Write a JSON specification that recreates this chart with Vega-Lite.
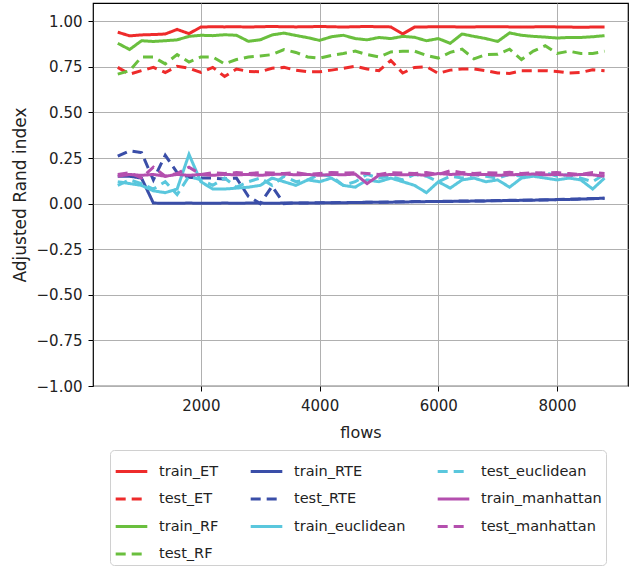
{
  "$schema": "https://vega.github.io/schema/vega-lite/v6.json",
  "width": 535,
  "height": 383,
  "autosize": "none",
  "padding": {"left": 93, "top": 3, "right": 4, "bottom": 183},
  "background": "white",
  "config": {
    "view": {"stroke": "#000", "strokeWidth": 1.2},
    "font": "DejaVu Sans",
    "legend": {
      "orient": "none",
      "legendX": 17,
      "legendY": 447,
      "columns": 3,
      "symbolType": "stroke",
      "symbolSize": 1000,
      "symbolStrokeWidth": 3,
      "labelFontSize": 14.5,
      "labelFont": "DejaVu Sans",
      "labelColor": "#222",
      "strokeColor": "#d0d0d0",
      "fillColor": "white",
      "cornerRadius": 4,
      "padding": 4,
      "rowPadding": 3.5,
      "columnPadding": 25,
      "labelOffset": 10,
      "labelLimit": 300
    }
  },
  "data": {
    "values": [
      {"flows": 600, "train_ET": 0.94, "test_ET": 0.747, "train_RF": 0.879, "test_RF": 0.71, "train_RTE": 0.15, "test_RTE": 0.26, "train_euclidean": 0.12, "test_euclidean": 0.1, "train_manhattan": 0.15, "test_manhattan": 0.16},
      {"flows": 800, "train_ET": 0.92, "test_ET": 0.71, "train_RF": 0.845, "test_RF": 0.729, "train_RTE": 0.15, "test_RTE": 0.29, "train_euclidean": 0.11, "test_euclidean": 0.13, "train_manhattan": 0.16, "test_manhattan": 0.17},
      {"flows": 1000, "train_ET": 0.925, "test_ET": 0.729, "train_RF": 0.893, "test_RF": 0.804, "train_RTE": 0.14, "test_RTE": 0.28, "train_euclidean": 0.1, "test_euclidean": 0.11, "train_manhattan": 0.155, "test_manhattan": 0.14},
      {"flows": 1200, "train_ET": 0.927, "test_ET": 0.747, "train_RF": 0.889, "test_RF": 0.804, "train_RTE": 0.003, "test_RTE": 0.13, "train_euclidean": 0.07, "test_euclidean": 0.08, "train_manhattan": 0.16, "test_manhattan": 0.2},
      {"flows": 1400, "train_ET": 0.93, "test_ET": 0.719, "train_RF": 0.893, "test_RF": 0.766, "train_RTE": 0.002, "test_RTE": 0.265, "train_euclidean": 0.06, "test_euclidean": 0.12, "train_manhattan": 0.15, "test_manhattan": 0.15},
      {"flows": 1600, "train_ET": 0.955, "test_ET": 0.753, "train_RF": 0.898, "test_RF": 0.817, "train_RTE": 0.002, "test_RTE": 0.17, "train_euclidean": 0.08, "test_euclidean": 0.05, "train_manhattan": 0.16, "test_manhattan": 0.165},
      {"flows": 1800, "train_ET": 0.932, "test_ET": 0.742, "train_RF": 0.917, "test_RF": 0.776, "train_RTE": 0.003, "test_RTE": 0.145, "train_euclidean": 0.27, "test_euclidean": 0.15, "train_manhattan": 0.155, "test_manhattan": 0.2},
      {"flows": 2000, "train_ET": 0.968, "test_ET": 0.719, "train_RF": 0.923, "test_RF": 0.804, "train_RTE": 0.002, "test_RTE": 0.14, "train_euclidean": 0.12, "test_euclidean": 0.13, "train_manhattan": 0.16, "test_manhattan": 0.16},
      {"flows": 2200, "train_ET": 0.97, "test_ET": 0.747, "train_RF": 0.921, "test_RF": 0.804, "train_RTE": 0.002, "test_RTE": 0.14, "train_euclidean": 0.08, "test_euclidean": 0.1, "train_manhattan": 0.155, "test_manhattan": 0.17},
      {"flows": 2400, "train_ET": 0.969, "test_ET": 0.697, "train_RF": 0.926, "test_RF": 0.766, "train_RTE": 0.003, "test_RTE": 0.135, "train_euclidean": 0.08, "test_euclidean": 0.14, "train_manhattan": 0.16, "test_manhattan": 0.165},
      {"flows": 2600, "train_ET": 0.97, "test_ET": 0.738, "train_RF": 0.923, "test_RF": 0.79, "train_RTE": 0.002, "test_RTE": 0.14, "train_euclidean": 0.085, "test_euclidean": 0.09, "train_manhattan": 0.158, "test_manhattan": 0.17},
      {"flows": 2800, "train_ET": 0.968, "test_ET": 0.725, "train_RF": 0.89, "test_RF": 0.804, "train_RTE": 0.003, "test_RTE": 0.04, "train_euclidean": 0.09, "test_euclidean": 0.12, "train_manhattan": 0.16, "test_manhattan": 0.165},
      {"flows": 3000, "train_ET": 0.97, "test_ET": 0.723, "train_RF": 0.898, "test_RF": 0.81, "train_RTE": 0.003, "test_RTE": 0.0, "train_euclidean": 0.1, "test_euclidean": 0.14, "train_manhattan": 0.155, "test_manhattan": 0.17},
      {"flows": 3200, "train_ET": 0.971, "test_ET": 0.742, "train_RF": 0.925, "test_RF": 0.817, "train_RTE": 0.002, "test_RTE": 0.095, "train_euclidean": 0.14, "test_euclidean": 0.1, "train_manhattan": 0.16, "test_manhattan": 0.168},
      {"flows": 3400, "train_ET": 0.97, "test_ET": 0.747, "train_RF": 0.935, "test_RF": 0.845, "train_RTE": 0.003, "test_RTE": 0.0, "train_euclidean": 0.12, "test_euclidean": 0.15, "train_manhattan": 0.162, "test_manhattan": 0.165},
      {"flows": 3600, "train_ET": 0.969, "test_ET": 0.732, "train_RF": 0.922, "test_RF": 0.829, "train_RTE": 0.003, "test_RTE": 0.004, "train_euclidean": 0.1, "test_euclidean": 0.12, "train_manhattan": 0.158, "test_manhattan": 0.17},
      {"flows": 3800, "train_ET": 0.97, "test_ET": 0.723, "train_RF": 0.91, "test_RF": 0.804, "train_RTE": 0.004, "test_RTE": 0.004, "train_euclidean": 0.13, "test_euclidean": 0.13, "train_manhattan": 0.16, "test_manhattan": 0.16},
      {"flows": 4000, "train_ET": 0.971, "test_ET": 0.723, "train_RF": 0.895, "test_RF": 0.798, "train_RTE": 0.004, "test_RTE": 0.005, "train_euclidean": 0.12, "test_euclidean": 0.16, "train_manhattan": 0.155, "test_manhattan": 0.165},
      {"flows": 4200, "train_ET": 0.97, "test_ET": 0.732, "train_RF": 0.915, "test_RF": 0.813, "train_RTE": 0.005, "test_RTE": 0.005, "train_euclidean": 0.14, "test_euclidean": 0.15, "train_manhattan": 0.16, "test_manhattan": 0.17},
      {"flows": 4400, "train_ET": 0.968, "test_ET": 0.742, "train_RF": 0.923, "test_RF": 0.823, "train_RTE": 0.005, "test_RTE": 0.006, "train_euclidean": 0.1, "test_euclidean": 0.1, "train_manhattan": 0.158, "test_manhattan": 0.168},
      {"flows": 4600, "train_ET": 0.97, "test_ET": 0.753, "train_RF": 0.905, "test_RF": 0.836, "train_RTE": 0.006, "test_RTE": 0.006, "train_euclidean": 0.09, "test_euclidean": 0.12, "train_manhattan": 0.162, "test_manhattan": 0.17},
      {"flows": 4800, "train_ET": 0.971, "test_ET": 0.738, "train_RF": 0.898, "test_RF": 0.817, "train_RTE": 0.007, "test_RTE": 0.008, "train_euclidean": 0.13, "test_euclidean": 0.16, "train_manhattan": 0.11, "test_manhattan": 0.165},
      {"flows": 5000, "train_ET": 0.97, "test_ET": 0.729, "train_RF": 0.911, "test_RF": 0.804, "train_RTE": 0.008, "test_RTE": 0.008, "train_euclidean": 0.12, "test_euclidean": 0.14, "train_manhattan": 0.155, "test_manhattan": 0.16},
      {"flows": 5200, "train_ET": 0.969, "test_ET": 0.785, "train_RF": 0.905, "test_RF": 0.832, "train_RTE": 0.008, "test_RTE": 0.009, "train_euclidean": 0.14, "test_euclidean": 0.15, "train_manhattan": 0.16, "test_manhattan": 0.17},
      {"flows": 5400, "train_ET": 0.93, "test_ET": 0.716, "train_RF": 0.917, "test_RF": 0.836, "train_RTE": 0.009, "test_RTE": 0.01, "train_euclidean": 0.12, "test_euclidean": 0.13, "train_manhattan": 0.158, "test_manhattan": 0.168},
      {"flows": 5600, "train_ET": 0.968, "test_ET": 0.747, "train_RF": 0.912, "test_RF": 0.836, "train_RTE": 0.01, "test_RTE": 0.011, "train_euclidean": 0.1, "test_euclidean": 0.16, "train_manhattan": 0.16, "test_manhattan": 0.165},
      {"flows": 5800, "train_ET": 0.969, "test_ET": 0.751, "train_RF": 0.893, "test_RF": 0.813, "train_RTE": 0.011, "test_RTE": 0.011, "train_euclidean": 0.06, "test_euclidean": 0.15, "train_manhattan": 0.155, "test_manhattan": 0.17},
      {"flows": 6000, "train_ET": 0.97, "test_ET": 0.714, "train_RF": 0.905, "test_RF": 0.798, "train_RTE": 0.012, "test_RTE": 0.012, "train_euclidean": 0.12, "test_euclidean": 0.12, "train_manhattan": 0.165, "test_manhattan": 0.16},
      {"flows": 6200, "train_ET": 0.97, "test_ET": 0.732, "train_RF": 0.879, "test_RF": 0.829, "train_RTE": 0.012, "test_RTE": 0.013, "train_euclidean": 0.085, "test_euclidean": 0.15, "train_manhattan": 0.16, "test_manhattan": 0.18},
      {"flows": 6400, "train_ET": 0.968, "test_ET": 0.738, "train_RF": 0.93, "test_RF": 0.847, "train_RTE": 0.013, "test_RTE": 0.014, "train_euclidean": 0.13, "test_euclidean": 0.14, "train_manhattan": 0.162, "test_manhattan": 0.17},
      {"flows": 6600, "train_ET": 0.969, "test_ET": 0.738, "train_RF": 0.917, "test_RF": 0.794, "train_RTE": 0.014, "test_RTE": 0.015, "train_euclidean": 0.14, "test_euclidean": 0.16, "train_manhattan": 0.158, "test_manhattan": 0.165},
      {"flows": 6800, "train_ET": 0.97, "test_ET": 0.729, "train_RF": 0.905, "test_RF": 0.817, "train_RTE": 0.015, "test_RTE": 0.015, "train_euclidean": 0.12, "test_euclidean": 0.15, "train_manhattan": 0.16, "test_manhattan": 0.17},
      {"flows": 7000, "train_ET": 0.97, "test_ET": 0.716, "train_RF": 0.889, "test_RF": 0.819, "train_RTE": 0.016, "test_RTE": 0.017, "train_euclidean": 0.13, "test_euclidean": 0.14, "train_manhattan": 0.155, "test_manhattan": 0.168},
      {"flows": 7200, "train_ET": 0.969, "test_ET": 0.714, "train_RF": 0.936, "test_RF": 0.847, "train_RTE": 0.017, "test_RTE": 0.018, "train_euclidean": 0.09, "test_euclidean": 0.16, "train_manhattan": 0.158, "test_manhattan": 0.172},
      {"flows": 7400, "train_ET": 0.968, "test_ET": 0.729, "train_RF": 0.923, "test_RF": 0.79, "train_RTE": 0.018, "test_RTE": 0.019, "train_euclidean": 0.14, "test_euclidean": 0.15, "train_manhattan": 0.16, "test_manhattan": 0.165},
      {"flows": 7600, "train_ET": 0.969, "test_ET": 0.729, "train_RF": 0.917, "test_RF": 0.836, "train_RTE": 0.019, "test_RTE": 0.02, "train_euclidean": 0.15, "test_euclidean": 0.16, "train_manhattan": 0.162, "test_manhattan": 0.17},
      {"flows": 7800, "train_ET": 0.97, "test_ET": 0.729, "train_RF": 0.913, "test_RF": 0.866, "train_RTE": 0.02, "test_RTE": 0.021, "train_euclidean": 0.14, "test_euclidean": 0.17, "train_manhattan": 0.158, "test_manhattan": 0.168},
      {"flows": 8000, "train_ET": 0.969, "test_ET": 0.725, "train_RF": 0.908, "test_RF": 0.823, "train_RTE": 0.022, "test_RTE": 0.022, "train_euclidean": 0.13, "test_euclidean": 0.15, "train_manhattan": 0.16, "test_manhattan": 0.17},
      {"flows": 8200, "train_ET": 0.968, "test_ET": 0.716, "train_RF": 0.911, "test_RF": 0.836, "train_RTE": 0.023, "test_RTE": 0.024, "train_euclidean": 0.14, "test_euclidean": 0.16, "train_manhattan": 0.155, "test_manhattan": 0.165},
      {"flows": 8400, "train_ET": 0.967, "test_ET": 0.719, "train_RF": 0.911, "test_RF": 0.823, "train_RTE": 0.025, "test_RTE": 0.026, "train_euclidean": 0.13, "test_euclidean": 0.14, "train_manhattan": 0.16, "test_manhattan": 0.16},
      {"flows": 8600, "train_ET": 0.968, "test_ET": 0.734, "train_RF": 0.915, "test_RF": 0.823, "train_RTE": 0.027, "test_RTE": 0.028, "train_euclidean": 0.08, "test_euclidean": 0.12, "train_manhattan": 0.158, "test_manhattan": 0.17},
      {"flows": 8800, "train_ET": 0.968, "test_ET": 0.729, "train_RF": 0.921, "test_RF": 0.836, "train_RTE": 0.03, "test_RTE": 0.03, "train_euclidean": 0.14, "test_euclidean": 0.16, "train_manhattan": 0.15, "test_manhattan": 0.165}
    ]
  },
  "transform": [
    {"fold": ["train_ET", "test_ET", "train_RF", "test_RF", "train_RTE", "test_RTE", "train_euclidean", "test_euclidean", "train_manhattan", "test_manhattan"], "as": ["series", "value"]}
  ],
  "mark": {"type": "line", "strokeWidth": 3, "clip": true},
  "encoding": {
    "x": {
      "field": "flows",
      "type": "quantitative",
      "scale": {"domain": [183, 9195], "nice": false, "zero": false},
      "axis": {
        "title": "flows",
        "values": [2000, 4000, 6000, 8000],
        "format": "d",
        "grid": true,
        "gridColor": "#b0b0b0",
        "gridWidth": 1,
        "domain": false,
        "tickColor": "#000",
        "tickSize": 5,
        "labelFontSize": 15,
        "labelColor": "#222",
        "labelPadding": 7,
        "titleFontSize": 16,
        "titleFontWeight": "normal",
        "titleColor": "#222",
        "titlePadding": 11
      }
    },
    "y": {
      "field": "value",
      "type": "quantitative",
      "scale": {"domain": [-1, 1.1], "nice": false},
      "axis": {
        "title": "Adjusted Rand index",
        "values": [-1, -0.75, -0.5, -0.25, 0, 0.25, 0.5, 0.75, 1],
        "format": ".2f",
        "grid": true,
        "gridColor": "#b0b0b0",
        "gridWidth": 1,
        "domain": false,
        "tickColor": "#000",
        "tickSize": 5,
        "labelFontSize": 15,
        "labelColor": "#222",
        "labelPadding": 6,
        "titleFontSize": 17,
        "titleFontWeight": "normal",
        "titleColor": "#222",
        "titlePadding": 7
      }
    },
    "color": {
      "field": "series",
      "type": "nominal",
      "scale": {
        "domain": ["train_ET", "test_ET", "train_RF", "test_manhattan", "train_RTE", "test_RTE", "train_euclidean", "test_RF", "test_euclidean", "train_manhattan"],
        "range": ["#ee2b2b", "#ee2b2b", "#6abf3e", "#b44fae", "#3a4ea8", "#3a4ea8", "#5ac7dd", "#6abf3e", "#5ac7dd", "#b44fae"]
      },
      "legend": {"title": null}
    },
    "strokeDash": {
      "field": "series",
      "type": "nominal",
      "scale": {
        "domain": ["train_ET", "test_ET", "train_RF", "test_manhattan", "train_RTE", "test_RTE", "train_euclidean", "test_RF", "test_euclidean", "train_manhattan"],
        "range": [[1, 0], [10, 6], [1, 0], [10, 6], [1, 0], [10, 6], [1, 0], [10, 6], [10, 6], [1, 0]]
      },
      "legend": {"title": null}
    }
  }
}
